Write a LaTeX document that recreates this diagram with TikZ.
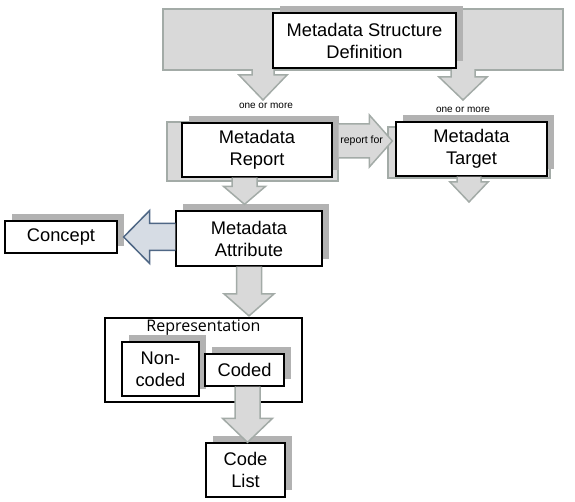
\documentclass[tikz,border=0pt]{standalone}
\usepackage{fontspec}
\setmainfont{Liberation Sans}
\newfontfamily\reprfont{Open Sans}
\usetikzlibrary{calc,shadows}
\pgfdeclarelayer{background}
\pgfsetlayers{background,main}
\definecolor{panelfill}{HTML}{D9D9D9}
\definecolor{panelline}{HTML}{A3ABA7}
\definecolor{shadowgray}{HTML}{B2B2B2}
\definecolor{cptfill}{HTML}{D6DCE4}
\definecolor{cptline}{HTML}{4F6785}
% block arrows: [style]{from}{to}{shaft half}{head half}{head length}
\newcommand\vblk[6][]{%
  \draw[blk,#1] let \p1=(#2), \p2=(#3), \n1={sign(\y2-\y1)}, \n2={\y2-\n1*#6} in
    ({\x1-#4},\y1) -- ({\x1-#4},\n2) -- ({\x1-#5},\n2) -- (\x1,\y2)
    -- ({\x1+#5},\n2) -- ({\x1+#4},\n2) -- ({\x1+#4},\y1);
}
\newcommand\hblk[6][]{%
  \draw[blk,#1] let \p1=(#2), \p2=(#3), \n1={sign(\x2-\x1)}, \n2={\x2-\n1*#6} in
    (\x1,{\y1-#4}) -- (\n2,{\y1-#4}) -- (\n2,{\y1-#5}) -- (\x2,\y1)
    -- (\n2,{\y1+#5}) -- (\n2,{\y1+#4}) -- (\x1,{\y1+#4});
}
\tikzset{
  blk/.style={fill=panelfill, draw=panelline, line width=1.5pt, line join=miter},
  cpt/.style={fill=cptfill, draw=cptline},
  box/.style={
    draw=black, line width=1.3pt, fill=white, align=center, inner sep=0pt,
    font=\fontsize{18.3}{22}\selectfont,
    drop shadow={shadow xshift=7pt, shadow yshift=7pt, fill=shadowgray, opacity=1}
  },
  reprbox/.style={draw=black, line width=2.2pt, fill=white, inner sep=0pt},
  note/.style={font=\fontsize{10}{12}\selectfont, inner sep=1pt}
}

\begin{document}
\begin{tikzpicture}[x=1pt, y=-1pt]
\useasboundingbox (0,0) rectangle (575,502);
\node[box, minimum width=183pt, minimum height=55pt] (msd) at (364.5,40.5) {Metadata Structure\\Definition};
\node[box, minimum width=150pt, minimum height=54pt] (report) at (257,150) {Metadata\\Report};
\node[box, minimum width=151pt, minimum height=54pt] (target) at (471.5,149) {Metadata\\Target};
\node[box, minimum width=146pt, minimum height=55pt] (attr) at (249,238.5) {Metadata\\Attribute};
\node[box, minimum width=112pt, minimum height=32pt] (concept) at (61,237) {Concept};
\node[reprbox, minimum width=197pt, minimum height=84pt] (repr) at (203.5,360) {};
\node[anchor=north, inner sep=0pt, font=\reprfont\fontsize{16}{19}\selectfont] (reprlbl)
  at ([yshift=-3pt]repr.north) {Representation};
\node[box, minimum width=77pt, minimum height=54pt] (noncoded) at (160.5,369) {Non-\\coded};
\node[box, minimum width=79pt, minimum height=32pt] (coded) at (244.5,370) {Coded};
\node[box, minimum width=79pt, minimum height=54pt] (codelist) at (245.5,470) {Code\\List};

% panels behind the boxes
\begin{pgfonlayer}{background}
\draw[blk] (163,9) rectangle (563,70);
\draw[blk] (167,122) rectangle (338,181);
\draw[blk] (388,127) rectangle (550,178);
\end{pgfonlayer}

\coordinate (barL) at (263,69.2);
\coordinate (barR) at (463,69.2);
\coordinate (oneL) at (263,100);
\coordinate (oneR) at (463,100);
\coordinate (tgtend) at (469,202);

\vblk{barL}{oneL}{11pt}{24pt}{25pt}
\vblk{barR}{oneR}{12pt}{24pt}{23pt}
\vblk{[xshift=-12.5pt]report.south}{[yshift=6pt]attr.north}{12.5pt}{21pt}{18pt}
\hblk{[xshift=6pt,yshift=9pt]report.east}{[xshift=-3pt]target.west}{17pt}{26pt}{23pt}
\vblk{[xshift=-2.5pt]target.south}{tgtend}{12pt}{19pt}{20pt}
\hblk[cpt]{[yshift=1.5pt]attr.west}{[xshift=6pt]concept.east}{13.5pt}{26.5pt}{26pt}
\vblk{attr.south}{[yshift=1pt]repr.north}{12.5pt}{25pt}{22pt}
\vblk{[xshift=3pt]coded.south}{codelist.north}{12.5pt}{25pt}{24pt}

\node[note, anchor=north] (oneLlbl) at ([xshift=3pt,yshift=-2pt]oneL) {one or more};
\node[note, anchor=north] (oneRlbl) at ([yshift=-6pt]oneR) {one or more};
\node[note, font=\fontsize{10.5}{12}\selectfont] (rptfor) at ([xshift=29pt,yshift=9pt]report.east) {report for};
\end{tikzpicture}
\end{document}
